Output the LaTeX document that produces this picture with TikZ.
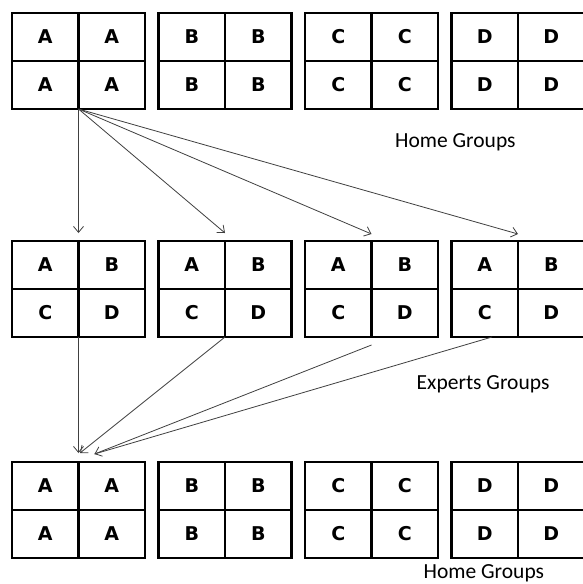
\documentclass[tikz,border=0pt]{standalone}
\usepackage{fontspec}
\newfontfamily\letfont{DejaVu Sans}
\newfontfamily\labfont{Carlito}
\usetikzlibrary{calc,arrows.meta}
\tikzset{
  grp/.style={draw, line width=2.5pt, minimum width=133pt, minimum height=96pt, inner sep=0pt, outer sep=0pt},
  cellline/.style={line width=2.5pt},
  letter/.style={font=\letfont\bfseries\fontsize{19}{22}\selectfont, inner sep=0pt, anchor=center},
  lab/.style={font=\labfont\fontsize{21.5}{24}\selectfont, inner sep=0pt, anchor=base west},
  arr/.style={draw=black!75, line width=0.8pt, -{Straight Barb[length=6pt,width=10pt]}},
  ln/.style={draw=black!75, line width=0.8pt}
}
\newcommand\mygroup[6]{%
  \node[grp] (#1) at #2 {};
  \draw[cellline] (#1.north) -- (#1.south);
  \draw[cellline] (#1.west) -- (#1.east);
  \node[letter] (#1-tl) at ($(#1.center)+(-33.25,-24)$) {#3};
  \node[letter] (#1-tr) at ($(#1.center)+(33.25,-24)$) {#4};
  \node[letter] (#1-bl) at ($(#1.center)+(-33.25,24)$) {#5};
  \node[letter] (#1-br) at ($(#1.center)+(33.25,24)$) {#6};
}
\begin{document}
\begin{tikzpicture}[x=1pt,y=-1pt]
\useasboundingbox[fill=white] (0,0) rectangle (582,584);
% home groups (top)
\mygroup{h1}{(78.5,61)}{A}{A}{A}{A}
\mygroup{h2}{(225,61)}{B}{B}{B}{B}
\mygroup{h3}{(371.5,61)}{C}{C}{C}{C}
\mygroup{h4}{(518,61)}{D}{D}{D}{D}
% expert groups
\mygroup{e1}{(78.5,289)}{A}{B}{C}{D}
\mygroup{e2}{(225,289)}{A}{B}{C}{D}
\mygroup{e3}{(371.5,289)}{A}{B}{C}{D}
\mygroup{e4}{(518,289)}{A}{B}{C}{D}
% home groups (bottom)
\mygroup{b1}{(78.5,510)}{A}{A}{A}{A}
\mygroup{b2}{(225,510)}{B}{B}{B}{B}
\mygroup{b3}{(371.5,510)}{C}{C}{C}{C}
\mygroup{b4}{(518,510)}{D}{D}{D}{D}
% labels
\node[lab] (l1) at (395,147) {Home Groups};
\node[lab] (l2) at (416.5,389) {Experts Groups};
\node[lab] (l3) at (423.5,578) {Home Groups};
% arrow ends
\coordinate (t1) at ([yshift=8pt]e1.north);
\coordinate (t2) at ([yshift=8pt]e2.north);
\coordinate (t3) at ([yshift=7pt]e3.north);
\coordinate (t4) at ([yshift=7pt]e4.north);
\coordinate (u1) at ([yshift=9pt]b1.north);
\coordinate (u2) at ([shift={(1.5pt,9pt)}]b1.north);
\coordinate (u3) at ([shift={(16pt,8pt)}]b1.north);
\coordinate (s3) at ([yshift=-8pt]e3.south);
\coordinate (s4) at ([xshift=-26pt]e4.south);
% top arrows
\draw[arr] (h1.south) -- (t1);
\draw[arr] (h1.south) -- (t2);
\draw[arr] (h1.south) -- (t3);
\draw[arr] (h1.south) -- (t4);
% bottom arrows
\draw[arr] (e1.south) -- (u1);
\draw[arr] (e2.south) -- (u2);
\draw[arr] (s3) -- (u3);
\draw[ln] (s4) -- (u3);
\end{tikzpicture}
\end{document}
